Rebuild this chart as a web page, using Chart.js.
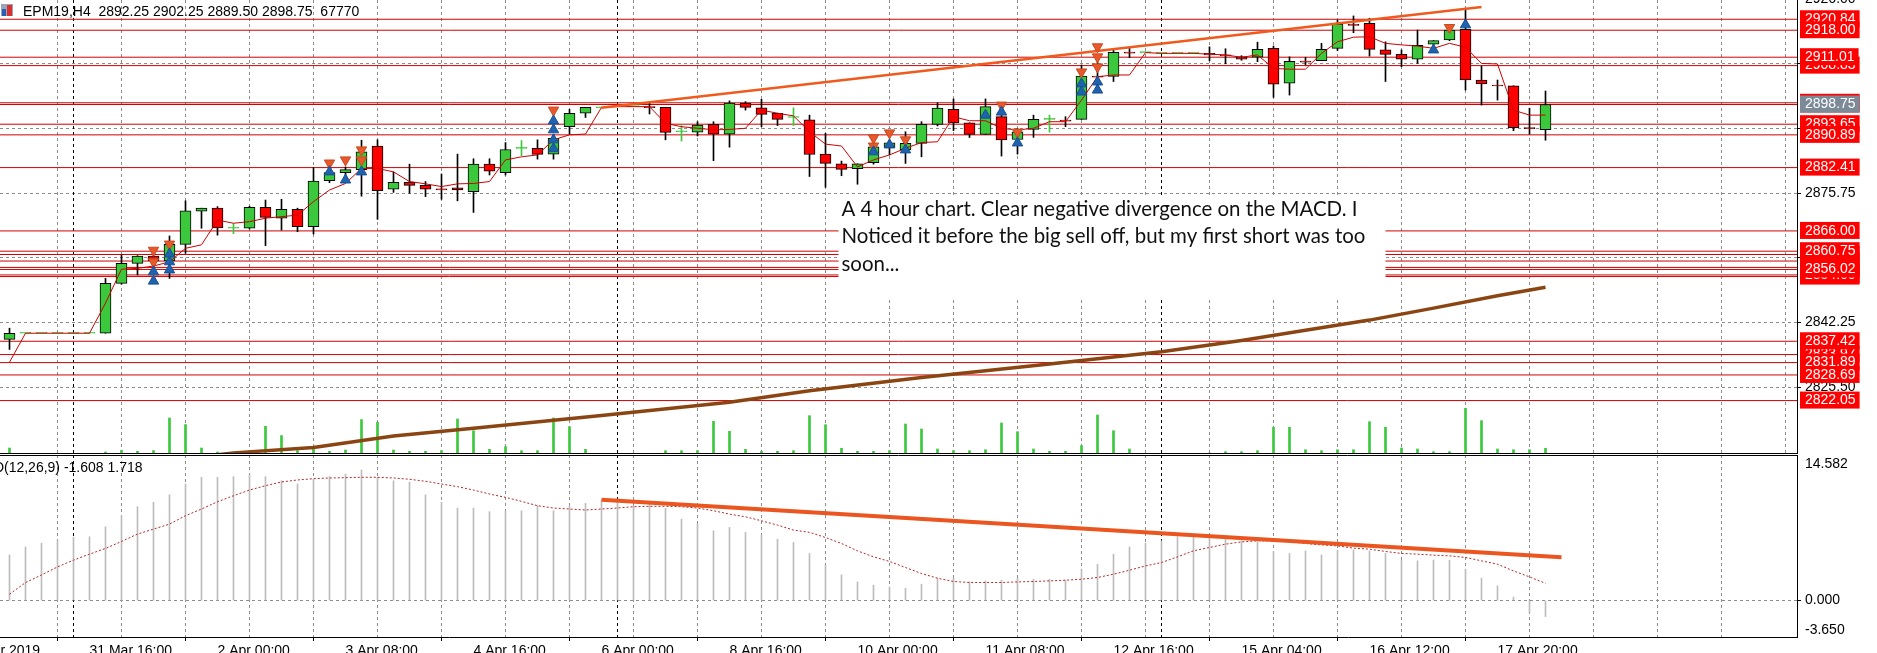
<!DOCTYPE html>
<html>
<head>
<meta charset="utf-8">
<title>EPM19,H4</title>
<script src="https://cdn.jsdelivr.net/npm/chart.js@4.4.1/dist/chart.umd.min.js"></script>
<style>
  html, body { margin: 0; padding: 0; background: #fff; }
  body { width: 1877px; height: 653px; overflow: hidden; position: relative; }
  #mainBox { position: absolute; left: 0; top: 0; width: 1877px; height: 454px; }
  #macdBox { position: absolute; left: 0; top: 455px; width: 1877px; height: 198px; }
</style>
</head>
<body>
<div id="mainBox"><canvas id="mainChart"></canvas></div>
<div id="macdBox"><canvas id="macdChart"></canvas></div>
<script>
// ---- data (H4 bars, left to right) ----
const symbolName = 'EPM19,H4';

const openArr = [2837.9, 2839.5, 2839.5, 2839.5, 2839.5, 2839.5, 2839.5, 2852.4, 2857.6, 2859.5,
  2858.2, 2862.5, 2871.1, 2871.9, 2866.7, 2866.7, 2872.1, 2869.3, 2871.6, 2867.1,
  2879.0, 2881.1, 2881.9, 2888.0, 2876.8, 2878.6, 2877.8, 2876.9, 2877.2, 2876.2,
  2883.3, 2881.1, 2887.4, 2887.4, 2885.9, 2893.0, 2896.5, 2897.9, 2898.2, 2898.2,
  2898.2, 2898.0, 2891.7, 2891.6, 2893.6, 2891.1, 2899.1, 2897.9, 2896.5, 2895.4,
  2894.8, 2885.9, 2883.4, 2882.1, 2883.7, 2887.5, 2887.0, 2888.7, 2893.6, 2897.5,
  2894.0, 2891.0, 2895.6, 2889.7, 2892.3, 2894.9, 2894.7, 2894.9, 2906.1, 2906.0,
  2912.3, 2912.2, 2912.0, 2912.0, 2912.0, 2912.0, 2911.6, 2911.1, 2911.0, 2913.3,
  2904.3, 2910.0, 2910.1, 2913.3, 2919.5, 2919.8, 2912.9, 2911.75, 2910.5, 2914.4,
  2915.5, 2918.2, 2905.1, 2903.8, 2903.6, 2892.75, 2892.25];

const highArr = [2840.8, 2839.5, 2839.5, 2839.5, 2839.5, 2839.5, 2853.7, 2859.8, 2859.6, 2860.2,
  2864.7, 2873.8, 2871.9, 2872.3, 2867.9, 2872.4, 2874.0, 2874.2, 2871.9, 2882.4,
  2881.9, 2882.6, 2889.5, 2889.6, 2881.3, 2883.3, 2878.8, 2880.75, 2885.9, 2884.7,
  2884.7, 2888.9, 2889.4, 2889.6, 2891.0, 2897.5, 2898.0, 2897.9, 2898.2, 2898.2,
  2899.5, 2898.0, 2893.3, 2894.3, 2894.3, 2899.7, 2899.5, 2900.1, 2896.5, 2897.9,
  2896.0, 2891.3, 2884.1, 2883.4, 2888.5, 2889.5, 2891.7, 2894.3, 2899.2, 2900.2,
  2894.0, 2900.2, 2899.2, 2892.5, 2896.0, 2896.0, 2895.6, 2909.0, 2910.5, 2913.1,
  2913.3, 2912.2, 2912.0, 2912.0, 2912.0, 2913.7, 2913.2, 2911.4, 2914.9, 2913.9,
  2911.1, 2911.0, 2914.6, 2920.6, 2921.7, 2921.1, 2915.0, 2912.9, 2918.05, 2915.3,
  2918.5, 2923.7, 2908.7, 2905.1, 2903.6, 2897.8, 2902.25];

const lowArr = [2835.3, 2839.5, 2839.5, 2839.5, 2839.5, 2839.5, 2839.5, 2852.2, 2854.6, 2855.0,
  2853.7, 2860.2, 2866.7, 2864.9, 2865.3, 2866.5, 2862.2, 2866.2, 2865.8, 2865.2,
  2878.5, 2879.8, 2875.0, 2869.0, 2876.0, 2875.75, 2874.9, 2874.2, 2873.8, 2870.8,
  2880.5, 2880.5, 2885.5, 2884.6, 2884.6, 2891.1, 2895.4, 2897.9, 2898.2, 2898.2,
  2896.3, 2889.6, 2889.3, 2890.6, 2884.2, 2887.7, 2897.3, 2893.0, 2893.3, 2893.3,
  2880.1, 2877.3, 2880.3, 2878.1, 2883.3, 2885.7, 2883.5, 2885.2, 2893.2, 2892.0,
  2890.2, 2891.0, 2885.4, 2885.9, 2890.25, 2891.6, 2893.0, 2894.9, 2903.0, 2904.7,
  2910.9, 2912.2, 2912.0, 2912.0, 2912.0, 2910.1, 2909.3, 2910.2, 2909.85, 2900.6,
  2901.2, 2909.0, 2910.1, 2912.7, 2917.35, 2911.3, 2904.7, 2908.55, 2909.4, 2914.2,
  2915.3, 2902.5, 2898.6, 2899.9, 2891.97, 2891.1, 2889.5];

const closeArr = [2839.5, 2839.5, 2839.5, 2839.5, 2839.5, 2839.5, 2852.4, 2857.6, 2859.5, 2858.2,
  2862.5, 2871.2, 2871.9, 2866.8, 2866.7, 2872.1, 2869.5, 2871.6, 2867.1, 2878.9,
  2881.1, 2881.9, 2886.5, 2876.4, 2878.6, 2877.8, 2876.8, 2876.65, 2876.6, 2883.3,
  2881.5, 2887.1, 2887.4, 2885.85, 2890.0, 2896.5, 2898.0, 2897.9, 2898.2, 2898.2,
  2897.95, 2891.55, 2891.7, 2893.4, 2891.1, 2899.1, 2898.0, 2896.2, 2894.9, 2895.4,
  2885.8, 2883.5, 2881.95, 2883.4, 2887.8, 2888.8, 2888.7, 2893.6, 2897.8, 2894.0,
  2891.0, 2898.2, 2889.6, 2891.7, 2894.9, 2894.9, 2894.45, 2906.1, 2905.85, 2912.3,
  2912.05, 2912.2, 2912.0, 2912.0, 2912.0, 2911.6, 2911.35, 2910.5, 2913.05, 2904.0,
  2909.95, 2909.75, 2913.05, 2919.6, 2919.25, 2913.05, 2911.75, 2910.5, 2914.1, 2915.3,
  2918.05, 2905.1, 2904.1, 2903.55, 2892.75, 2892.5, 2898.75];

const volumeArr = [71400, 0, 0, 0, 0, 0, 23800, 44000, 32100, 40500,
  428400, 349900, 71400, 23800, 17900, 11900, 329600, 219000, 40500, 59500,
  32100, 47600, 409400, 377200, 47600, 32100, 32100, 39300, 416500, 277300,
  55900, 86900, 39300, 39300, 428400, 324900, 55900, 0, 0, 0,
  0, 39300, 39300, 39300, 389100, 270100, 55900, 32100, 32100, 39300,
  455800, 348700, 67800, 32100, 32100, 39300, 357000, 297500, 59500, 39300,
  39300, 51200, 368900, 265400, 59500, 32100, 32100, 98800, 464100, 277300,
  59500, 0, 0, 0, 0, 11900, 27400, 27400, 39300, 317700,
  317700, 51200, 39300, 51200, 51200, 384400, 317700, 71400, 59500, 27400,
  27400, 543800, 396300, 59500, 51200, 51200, 67770];

// short moving average (thin red line)
const maArr = [2832.0, 2839.5, 2839.5, 2839.5, 2839.5, 2839.5, 2847.3, 2856.1, 2856.3, 2856.9,
  2858.0, 2861.5, 2862.4, 2868.8, 2868.0, 2868.4, 2869.3, 2869.7, 2870.1, 2873.6,
  2876.6, 2878.3, 2882.2, 2882.2, 2881.3, 2878.8, 2878.2, 2877.5, 2878.2, 2878.3,
  2878.8, 2884.4, 2885.2, 2885.7, 2889.6, 2890.9, 2891.1, 2898.0, 2898.2, 2898.2,
  2898.2, 2893.9, 2893.0, 2892.6, 2892.2, 2892.3, 2892.6, 2897.3, 2896.5, 2895.8,
  2891.7, 2888.5, 2888.0, 2882.6, 2884.4, 2885.7, 2887.4, 2888.9, 2889.1, 2895.6,
  2894.55, 2894.55, 2892.6, 2892.15, 2892.6, 2894.3, 2894.3, 2899.9, 2905.95, 2906.4,
  2906.4, 2912.2, 2912.0, 2912.0, 2912.0, 2911.8, 2911.6, 2911.0, 2911.6, 2908.1,
  2907.9, 2907.9, 2912.0, 2915.0, 2916.2, 2916.3, 2914.6, 2914.2, 2913.9, 2913.3,
  2914.6, 2913.6, 2909.4, 2909.25, 2897.3, 2896.0, 2896.0];

// long moving average (thick brown line), read at these bars
const brownBars = [13, 14, 19, 24, 29, 37, 45, 50, 57, 65, 72, 77, 85, 89, 93, 96];
const brownVals = [2808.0, 2808.5, 2809.9, 2812.9, 2814.9, 2818.2, 2821.6, 2824.6, 2828.0, 2831.5,
  2834.7, 2837.6, 2842.9, 2846.0, 2849.2, 2851.4];

// trend lines
const trendBars = [37, 92];
const trendPrices = [2897.9, 2924.0];
const macdTrendBars = [37, 97];
const macdTrendVals = [10.1, 4.35];

// signal arrows
const downArrowBars = [9, 9, 10, 20, 21, 22, 22, 34, 54, 54, 55, 56, 62, 63, 67, 68, 68, 68, 90];
const downArrowPrices = [2861.0, 2858.0, 2862.6, 2883.6, 2884.4, 2887.0, 2884.4, 2897.3, 2890.1, 2888.0,
  2891.4, 2889.6, 2898.6, 2891.6, 2907.2, 2913.7, 2911.1, 2908.5, 2918.7];
const upArrowBars = [9, 9, 10, 10, 10, 20, 21, 22, 34, 34, 34, 34, 54, 55, 56, 61, 62, 63, 67, 67, 68, 68, 89, 91];
const upArrowPrices = [2855.4, 2853.0, 2860.0, 2858.0, 2855.9, 2881.3, 2879.2, 2881.3, 2894.5, 2892.2,
  2889.6, 2887.3, 2886.5, 2888.3, 2887.0, 2896.0, 2896.8, 2888.8, 2904.1, 2902.0, 2904.6, 2902.5, 2912.9, 2919.4];

// horizontal price levels, in the order their labels are stacked
const levelPrices = [2920.84, 2918.00, 2908.83, 2911.01, 2899.20, 2898.75, 2893.65, 2890.89, 2882.41, 2866.00,
  2858.20, 2859.90, 2854.18, 2854.60, 2856.55, 2860.75, 2856.02, 2833.97, 2837.42, 2831.89, 2828.69, 2822.05];

// price axis grid labels
const gridPrices = [2926.00, 2909.25, 2892.50, 2875.75, 2859.00, 2842.25, 2825.50];
const priceMin = 2808.21;
const priceMax = 2925.83;

// MACD(12,26,9)
const macdArr = [4.58, 5.38, 5.75, 6.05, 6.32, 6.39, 7.39, 8.5, 9.4, 9.84,
  10.6, 11.68, 12.35, 12.35, 12.41, 12.61, 12.41, 12.0, 11.68, 12.18,
  12.41, 12.68, 13.08, 12.35, 12.0, 11.85, 10.6, 9.84, 9.27, 9.27,
  8.9, 9.0, 9.0, 9.5, 9.0, 9.5, 9.74, 10.07, 10.0, 9.5,
  9.74, 9.24, 8.16, 7.66, 6.99, 7.33, 6.83, 6.59, 6.15, 5.82,
  4.72, 3.54, 2.57, 1.87, 1.54, 1.37, 1.23, 1.64, 2.24, 2.24,
  1.87, 1.97, 2.04, 2.24, 2.14, 2.14, 2.04, 3.04, 3.64, 4.65,
  5.38, 5.75, 5.98, 6.39, 6.39, 6.25, 6.15, 5.98, 5.88, 4.92,
  4.72, 4.98, 4.58, 5.05, 5.08, 4.98, 4.72, 4.05, 3.98, 4.05,
  4.05, 3.14, 2.24, 1.47, 0.35, -1.24, -1.608];
const signalArr = [0.63, 1.8, 2.57, 3.37, 4.05, 4.65, 5.22, 5.92, 6.66, 7.16,
  7.66, 8.5, 9.17, 9.9, 10.5, 11.07, 11.51, 11.88, 12.08, 12.21,
  12.28, 12.31, 12.35, 12.35, 12.28, 12.15, 11.95, 11.68, 11.41, 11.07,
  10.67, 10.34, 9.94, 9.5, 9.27, 9.17, 9.07, 9.17, 9.27, 9.4,
  9.44, 9.44, 9.4, 9.27, 9.0, 8.66, 8.39, 7.99, 7.56, 7.06,
  6.83, 6.32, 5.72, 4.98, 4.38, 3.92, 3.31, 2.71, 2.24, 1.91,
  1.81, 1.81, 1.81, 1.87, 1.91, 1.97, 2.04, 2.14, 2.31, 2.64,
  3.04, 3.47, 3.81, 4.38, 4.98, 5.32, 5.65, 5.88, 5.98, 5.98,
  5.92, 5.72, 5.58, 5.48, 5.25, 5.15, 4.92, 4.72, 4.65, 4.55,
  4.48, 4.32, 3.98, 3.64, 2.97, 2.37, 1.718];
const macdTicks = [14.582, 0, -3.65];

// time axis
const timeLabels = ['29 Mar 2019', '31 Mar 16:00', '2 Apr 00:00', '3 Apr 08:00', '4 Apr 16:00', '6 Apr 00:00',
  '8 Apr 16:00', '10 Apr 00:00', '11 Apr 08:00', '12 Apr 16:00', '15 Apr 04:00', '16 Apr 12:00', '17 Apr 20:00'];
const timeLabelBars = [-3, 5, 13, 21, 29, 37, 45, 53, 61, 69, 77, 85, 93];
const separatorBars = [4, 38, 72];

const noteLines = ['A 4 hour chart. Clear negative divergence on the MACD. I',
  'Noticed it before the big sell off, but my first short was too',
  'soon...'];

// ---- look ----
const FONT = '"Liberation Sans", Arial, sans-serif';
const BULL = '#3cc83c';
const BEAR = '#ff0000';
const LEVEL = '#d00000';
const GRID = '#8c8c8c';
const CLEAR = 'rgba(0,0,0,0)';
const AXIS_W = 80;
const BAR_PX = 16;
const X_MIN = -9.5 / BAR_PX;
const X_MAX = (1877 - AXIS_W - 9.5) / BAR_PX;

Chart.defaults.font.family = FONT;
Chart.defaults.font.size = 14;
Chart.defaults.color = '#000';

const bars = openArr.map((_, i) => i);
const last = bars.length - 1;
const isDoji = k => openArr[k] === closeArr[k];

function gridBars() {
  const out = [];
  for (let b = timeLabelBars[1] - 4; b <= X_MAX; b += 4) out.push(b);
  return out;
}

function drawSeparators(chart) {
  const { ctx, chartArea: a, scales: { x } } = chart;
  ctx.save();
  ctx.beginPath();
  ctx.rect(a.left, a.top, a.right - a.left, a.bottom - a.top);
  ctx.clip();
  ctx.strokeStyle = '#000';
  ctx.lineWidth = 1;
  ctx.setLineDash([3, 3]);
  separatorBars.forEach(b => {
    const px = Math.floor(x.getPixelForValue(b)) + 0.5;
    ctx.beginPath();
    ctx.moveTo(px, a.top);
    ctx.lineTo(px, a.bottom);
    ctx.stroke();
  });
  ctx.restore();
}

// ---- main price panel ----
const tickKinds = [];
const mainTicks = () => {
  tickKinds.length = 0;
  const list = [];
  gridPrices.forEach(v => { list.push(v); tickKinds.push('grid'); });
  levelPrices.forEach(v => { list.push(v); tickKinds.push('level'); });
  list.push(closeArr[last]); tickKinds.push('bid');
  return list;
};

const mainDecor = {
  id: 'mainDecor',
  beforeDatasetsDraw(chart) { drawSeparators(chart); },
  afterDatasetsDraw(chart) {
    const { ctx, scales: { x, y } } = chart;
    ctx.save();
    // pasted comment box
    const left = x.getPixelForValue(52);
    const right = x.getPixelForValue(86);
    const top = y.getPixelForValue(2875.3);
    const bottom = y.getPixelForValue(2848.5);
    ctx.fillStyle = '#fff';
    ctx.fillRect(left - 3, top, right - left + 3, bottom - top);
    let size = 20;
    ctx.font = `${size}px Lato, "Open Sans", sans-serif`;
    size = size * 516 / ctx.measureText(noteLines[0]).width;
    ctx.font = `${size.toFixed(2)}px Lato, "Open Sans", sans-serif`;
    ctx.fillStyle = '#111';
    ctx.textBaseline = 'middle';
    ctx.textAlign = 'left';
    noteLines.forEach((t, i) => ctx.fillText(t, left, top + 14.5 + i * 27.3));
    ctx.restore();
  },
  afterDraw(chart) {
    const { ctx, chartArea: a } = chart;
    ctx.save();
    ctx.strokeStyle = '#000';
    ctx.lineWidth = 1;
    ctx.beginPath();
    ctx.moveTo(a.left, a.bottom - 0.5);
    ctx.lineTo(a.right, a.bottom - 0.5);
    ctx.stroke();
    // window icon
    ctx.fillStyle = '#9aa6b8';
    ctx.fillRect(a.left + 1, a.top + 4, 12, 12);
    ctx.fillStyle = '#2a5fb0';
    ctx.fillRect(a.left + 2, a.top + 9, 4, 7);
    ctx.fillStyle = '#d83030';
    ctx.fillRect(a.left + 7, a.top + 5, 5, 11);
    // header
    const f = v => v.toFixed(2);
    const header = `${symbolName}  ${f(openArr[last])} ${f(highArr[last])} ${f(lowArr[last])} ${f(closeArr[last])}  ${volumeArr[last]}`;
    ctx.font = `14px ${FONT}`;
    ctx.fillStyle = '#000';
    ctx.textBaseline = 'middle';
    ctx.textAlign = 'left';
    ctx.fillText(header, a.left + 23, a.top + 12);
    ctx.restore();
  }
};

const levelDatasets = levelPrices.map(p => ({
  type: 'line', order: 10,
  data: [{ x: X_MIN, y: p }, { x: X_MAX, y: p }],
  borderColor: LEVEL, borderWidth: 1, pointRadius: 0
}));

new Chart(document.getElementById('mainChart'), {
  type: 'line',
  data: {
    datasets: [
      ...levelDatasets,
      {
        type: 'bar', order: 9, yAxisID: 'yv', grouped: false,
        data: bars.map(k => ({ x: k, y: volumeArr[k] })),
        backgroundColor: BULL, barThickness: 2
      },
      {
        type: 'line', order: 8,
        data: brownBars.map((b, i) => ({ x: b, y: brownVals[i] })),
        borderColor: '#8b4513', borderWidth: 3.5, pointRadius: 0
      },
      {
        type: 'bar', order: 6, grouped: false,
        data: bars.map(k => ({ x: k, y: [lowArr[k], highArr[k]] })),
        backgroundColor: bars.map(k => isDoji(k) ? BULL : '#000'),
        barThickness: 1, borderWidth: 0
      },
      {
        type: 'bar', order: 5, grouped: false,
        data: bars.map(k => ({ x: k, y: [openArr[k], closeArr[k]] })),
        backgroundColor: bars.map(k => closeArr[k] < openArr[k] ? BEAR : BULL),
        borderColor: bars.map(k => isDoji(k) ? BULL : '#000'),
        borderWidth: 1, borderSkipped: false, barThickness: 11, minBarLength: 1
      },
      {
        type: 'line', order: 4,
        data: bars.map(k => ({ x: k, y: maArr[k] })),
        borderColor: '#cc0000', borderWidth: 1, pointRadius: 0
      },
      {
        type: 'line', order: 3,
        data: trendBars.map((b, i) => ({ x: b, y: trendPrices[i] })),
        borderColor: '#f05a1e', borderWidth: 2.5, pointRadius: 0
      },
      {
        type: 'line', order: 2, showLine: false,
        data: downArrowBars.map((b, i) => ({ x: b, y: downArrowPrices[i] })),
        pointStyle: 'triangle', pointRotation: 180, pointRadius: 6,
        pointBackgroundColor: '#e8582a', pointBorderColor: '#c84a20', pointBorderWidth: 1
      },
      {
        type: 'line', order: 1, showLine: false,
        data: upArrowBars.map((b, i) => ({ x: b, y: upArrowPrices[i] })),
        pointStyle: 'triangle', pointRadius: 6,
        pointBackgroundColor: '#1f63b0', pointBorderColor: '#174f90', pointBorderWidth: 1
      }
    ]
  },
  options: {
    responsive: true, maintainAspectRatio: false, animation: false, events: [],
    layout: { padding: 0, autoPadding: false },
    plugins: { legend: { display: false }, tooltip: { enabled: false } },
    scales: {
      x: {
        type: 'linear', min: X_MIN, max: X_MAX, offset: false,
        afterBuildTicks: s => { s.ticks = gridBars().map(v => ({ value: v })); },
        afterFit: s => { s.height = 0; s.paddingLeft = 0; s.paddingRight = 0; },
        grid: { color: GRID, drawTicks: false },
        border: { display: false, dash: [3, 3] },
        ticks: { display: false }
      },
      y: {
        type: 'linear', position: 'right', min: priceMin, max: priceMax,
        afterBuildTicks: s => { s.ticks = mainTicks().map(v => ({ value: v })); },
        afterFit: s => { s.width = AXIS_W; s.paddingTop = 0; s.paddingBottom = 0; },
        grid: {
          color: c => tickKinds[c.index] === 'grid' ? GRID : CLEAR,
          tickColor: c => tickKinds[c.index] === 'grid' ? '#000' : CLEAR,
          tickLength: 4
        },
        border: { display: true, color: '#000', width: 1, dash: [3, 3] },
        ticks: {
          autoSkip: false, padding: 4,
          font: { size: 14, lineHeight: 1 },
          color: c => tickKinds[c.index] === 'grid' ? '#000' : '#fff',
          showLabelBackdrop: true,
          backdropColor: c => tickKinds[c.index] === 'level' ? '#ff0000' : (tickKinds[c.index] === 'bid' ? '#7c8a98' : CLEAR),
          backdropPadding: { left: 5, right: 4, top: 2, bottom: 1 },
          callback: v => Number(v).toFixed(2)
        }
      },
      yv: {
        type: 'linear', display: false, min: 0, max: 5400000
      }
    }
  },
  plugins: [mainDecor]
});

// ---- MACD panel ----
const macdRange = macdTicks[0] - macdTicks[2];
const macdDecor = {
  id: 'macdDecor',
  beforeDatasetsDraw(chart) { drawSeparators(chart); },
  afterDraw(chart) {
    const { ctx, chartArea: a } = chart;
    ctx.save();
    ctx.strokeStyle = '#000';
    ctx.lineWidth = 1;
    ctx.beginPath();
    ctx.moveTo(a.left, a.top + 0.5);
    ctx.lineTo(a.right, a.top + 0.5);
    ctx.stroke();
    ctx.font = `14px ${FONT}`;
    ctx.fillStyle = '#000';
    ctx.textBaseline = 'middle';
    ctx.textAlign = 'left';
    const lead = ctx.measureText('MACD').width;
    ctx.fillText(`MACD(12,26,9) ${macdArr[last].toFixed(3)} ${signalArr[last].toFixed(3)}`, a.left + 4 - lead, a.top + 13);
    ctx.restore();
  }
};

new Chart(document.getElementById('macdChart'), {
  type: 'line',
  data: {
    datasets: [
      {
        type: 'bar', order: 5, grouped: false,
        data: bars.map(k => ({ x: k, y: macdArr[k] })),
        backgroundColor: '#bdbdbd', barThickness: 1
      },
      {
        type: 'line', order: 3,
        data: bars.map(k => ({ x: k, y: signalArr[k] })),
        borderColor: '#b42828', borderWidth: 1, borderDash: [2, 2], pointRadius: 0
      },
      {
        type: 'line', order: 2,
        data: macdTrendBars.map((b, i) => ({ x: b, y: macdTrendVals[i] })),
        borderColor: '#ea5520', borderWidth: 4, pointRadius: 0
      }
    ]
  },
  options: {
    responsive: true, maintainAspectRatio: false, animation: false, events: [],
    layout: { padding: 0, autoPadding: false },
    plugins: { legend: { display: false }, tooltip: { enabled: false } },
    scales: {
      x: {
        type: 'linear', min: X_MIN, max: X_MAX, offset: false,
        afterBuildTicks: s => { s.ticks = [timeLabelBars[0]].concat(gridBars()).map(v => ({ value: v })); },
        afterFit: s => { s.height = 16; s.paddingLeft = 0; s.paddingRight = 0; },
        grid: {
          color: c => (c.tick && c.tick.value >= X_MIN) ? GRID : CLEAR,
          tickColor: c => (c.tick && timeLabelBars.indexOf(c.tick.value) > 0) ? '#000' : CLEAR,
          tickLength: 4
        },
        border: { display: true, color: '#000', width: 1, dash: [3, 3] },
        ticks: {
          autoSkip: false, maxRotation: 0, minRotation: 0, align: 'start', padding: 3,
          font: { size: 14, lineHeight: 1 },
          callback: v => { const i = timeLabelBars.indexOf(v); return i >= 0 ? timeLabels[i] : ''; }
        }
      },
      y: {
        type: 'linear', position: 'right', min: macdTicks[2], max: macdTicks[0],
        afterBuildTicks: s => {
          s.ticks = [macdTicks[0] - macdRange * 0.048, macdTicks[1], macdTicks[2] + macdRange * 0.04].map(v => ({ value: v }));
        },
        afterFit: s => { s.width = AXIS_W; s.paddingTop = 0; s.paddingBottom = 0; },
        grid: {
          color: c => c.index === 1 ? GRID : CLEAR,
          tickColor: c => c.index === 1 ? '#000' : CLEAR,
          tickLength: 4
        },
        border: { display: true, color: '#000', width: 1, dash: [3, 3] },
        ticks: {
          autoSkip: false, padding: 4,
          font: { size: 14, lineHeight: 1 },
          callback: (v, i) => macdTicks[i].toFixed(3)
        }
      }
    }
  },
  plugins: [macdDecor]
});
</script>
</body>
</html>
